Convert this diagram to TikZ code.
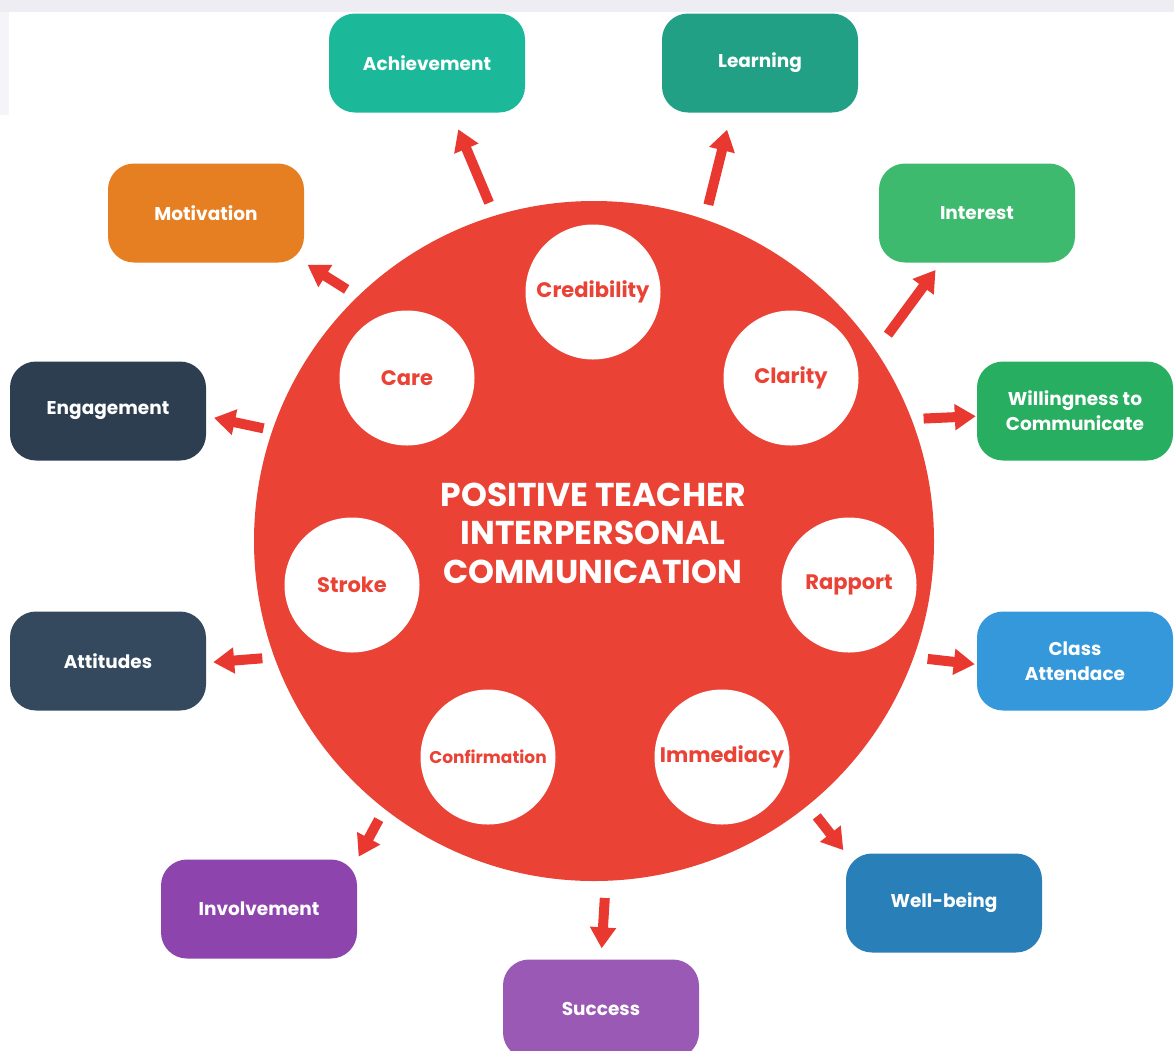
\documentclass[tikz,border=0pt]{standalone}
\usepackage{fontspec}
\setmainfont{Poppins}
\usepackage{xcolor}
\usetikzlibrary{arrows.meta,calc}
\definecolor{hubRed}{HTML}{EB4236}
\definecolor{arrowRed}{HTML}{E9382F}
\definecolor{topHaze}{HTML}{EEEDF4}
\definecolor{achievement}{HTML}{1BB99A}
\definecolor{learning}{HTML}{22A085}
\definecolor{motivation}{HTML}{E67E22}
\definecolor{interest}{HTML}{3EBA6F}
\definecolor{willingness}{HTML}{27AE60}
\definecolor{engagement}{HTML}{2C3E50}
\definecolor{attitudes}{HTML}{34495E}
\definecolor{attendance}{HTML}{3498DB}
\definecolor{wellbeing}{HTML}{2980B9}
\definecolor{involvement}{HTML}{8E44AD}
\definecolor{success}{HTML}{9B59B6}
\tikzset{
  outcome/.style={rounded corners=26pt, minimum width=196pt, minimum height=99pt,
    inner sep=0pt, align=center, text=white,
    font=\fontsize{18.5}{25}\selectfont\bfseries},
  trait/.style={circle, fill=white, minimum size=135pt, inner sep=0pt,
    text=hubRed, font=\fontsize{21}{24}\selectfont\bfseries},
  flow/.style={draw=arrowRed, line width=10pt,
    -{Triangle[length=21pt,width=25pt]}}
}

\begin{document}
\begin{tikzpicture}[x=1pt,y=-1pt]
\useasboundingbox (0,0) rectangle (1174,1050);
\clip (0,0) rectangle (1174,1050);
\fill[topHaze] (0,0) rectangle (1174,12);
\fill[topHaze!60] (0,12) rectangle (9,115);

\node[circle, fill=hubRed, minimum size=680pt, inner sep=0pt] (hub) at (594,541) {};
\node[text=white, align=center, font=\fontsize{33}{38.5}\selectfont\bfseries] (title) at (593,533)
  {POSITIVE TEACHER\\INTERPERSONAL\\COMMUNICATION};

\node[trait] (cred) at (593,292) {Credibility};
\node[trait] (care) at (407,378) {Care};
\node[trait] (clar) at (791,378) {Clarity};
\node[trait] (strk) at (352,585) {Stroke};
\node[trait] (rapp) at (849,585) {Rapport};
\node[trait, font=\fontsize{17}{20}\selectfont\bfseries] (conf) at (488,757) {Confirmation};
\node[trait] (imme) at (722,757) {Immediacy};

\node[outcome, fill=achievement] (ach) at (427,63) {Achievement};
\node[outcome, fill=learning] (lrn) at (760,63) {Learning};
\node[outcome, fill=motivation] (mot) at (206,213) {Motivation};
\node[outcome, fill=interest] (int) at (977,213) {Interest};
\node[outcome, fill=engagement] (eng) at (108,411) {Engagement};
\node[outcome, fill=willingness] (will) at (1075,411) {Willingness to\\Communicate};
\node[outcome, fill=attitudes] (att) at (108,661) {Attitudes};
\node[outcome, fill=attendance] (cls) at (1075,661) {Class\\Attendace};
\node[outcome, fill=involvement] (inv) at (259,909) {Involvement};
\node[outcome, fill=wellbeing] (wel) at (944,903) {Well-being};
\node[outcome, fill=success] (suc) at (601,1009) {Success};

\foreach \a/\s/\b/\c/\e in {107.2/14/ach/-64.4/18, 71/15/lrn/-120/17.5,
    134/13/mot/south east/4, 34.7/20/int/-126/9, 161.3/9/eng/-3/8,
    21/12/will/183/1, 200.7/12/att/-1.3/7, -20.8/14/cls/182.4/2,
    232.3/12/inv/north east/3, -51.6/14/wel/north west/4, -88.7/17/suc/north/11}
  \draw[flow, shorten <=\s pt, shorten >=\e pt] (hub.\a) -- (\b.\c);
\end{tikzpicture}
\end{document}
